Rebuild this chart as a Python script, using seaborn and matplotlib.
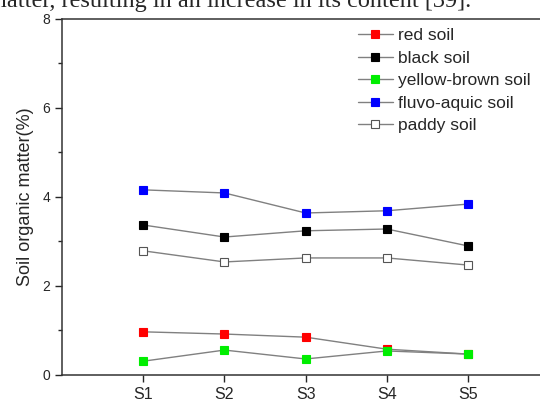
import pandas as pd
import seaborn as sns
import matplotlib.pyplot as plt
from matplotlib.ticker import MultipleLocator

sites = ["S1", "S2", "S3", "S4", "S5"]
red_soil = [0.97, 0.92, 0.85, 0.58, 0.47]
black_soil = [3.37, 3.10, 3.24, 3.28, 2.90]
yellow_brown_soil = [0.31, 0.56, 0.36, 0.54, 0.47]
fluvo_aquic_soil = [4.16, 4.09, 3.64, 3.69, 3.84]
paddy_soil = [2.79, 2.54, 2.63, 2.63, 2.47]

series = [
    ("red soil", red_soil, "#ff0000", "#ff0000"),
    ("black soil", black_soil, "#000000", "#000000"),
    ("yellow-brown soil", yellow_brown_soil, "#00ee00", "#00ee00"),
    ("fluvo-aquic soil", fluvo_aquic_soil, "#0000ff", "#0000ff"),
    ("paddy soil", paddy_soil, "white", "#555555"),
]

sns.set_style("ticks")
plt.rcParams["font.family"] = ["Liberation Sans", "DejaVu Sans"]

fig = plt.figure(figsize=(5.4, 4.03), dpi=100)
ax = fig.add_axes([0.115, 0.0695, 0.902, 0.8835])

for name, vals, face, edge in series:
    df = pd.DataFrame({"x": range(1, len(sites) + 1), "y": vals})
    sns.lineplot(data=df, x="x", y="y", ax=ax, color="#808080", linewidth=1,
                 marker="s", markersize=6, markerfacecolor=face,
                 markeredgecolor=edge, markeredgewidth=0.8, label=name)

ax.set_xlim(0, 6)
ax.set_ylim(0, 8)
ax.set_xticks(range(1, len(sites) + 1))
ax.set_xticklabels(sites, fontsize=11.5)
ax.yaxis.set_major_locator(MultipleLocator(2))
ax.yaxis.set_minor_locator(MultipleLocator(1))
ax.tick_params(axis="y", which="major", labelsize=10, length=5, width=1, direction="out")
ax.tick_params(axis="y", which="minor", length=3, width=1, direction="out")
ax.tick_params(axis="x", length=5, width=1, direction="out")
ax.set_xlabel("")
ax.set_ylabel("Soil organic matter(%)", fontsize=13, labelpad=6)
for s in ["left", "top", "bottom"]:
    ax.spines[s].set_color("#333333")
    ax.spines[s].set_linewidth(1.1)
ax.spines["right"].set_visible(False)

ax.legend(loc="upper left", bbox_to_anchor=(0.575, 1.018), frameon=False,
          fontsize=12.5, handlelength=2.0, labelspacing=0.42, handletextpad=0.3)

# sentence from the page above the figure, cut off at the top edge
fig.text(0.872, 0.982, "matter, resulting in an increase in its content [39].",
         ha="right", va="baseline", fontsize=17.5, family=["Liberation Serif"])

fig.savefig("out.png", dpi=100)
